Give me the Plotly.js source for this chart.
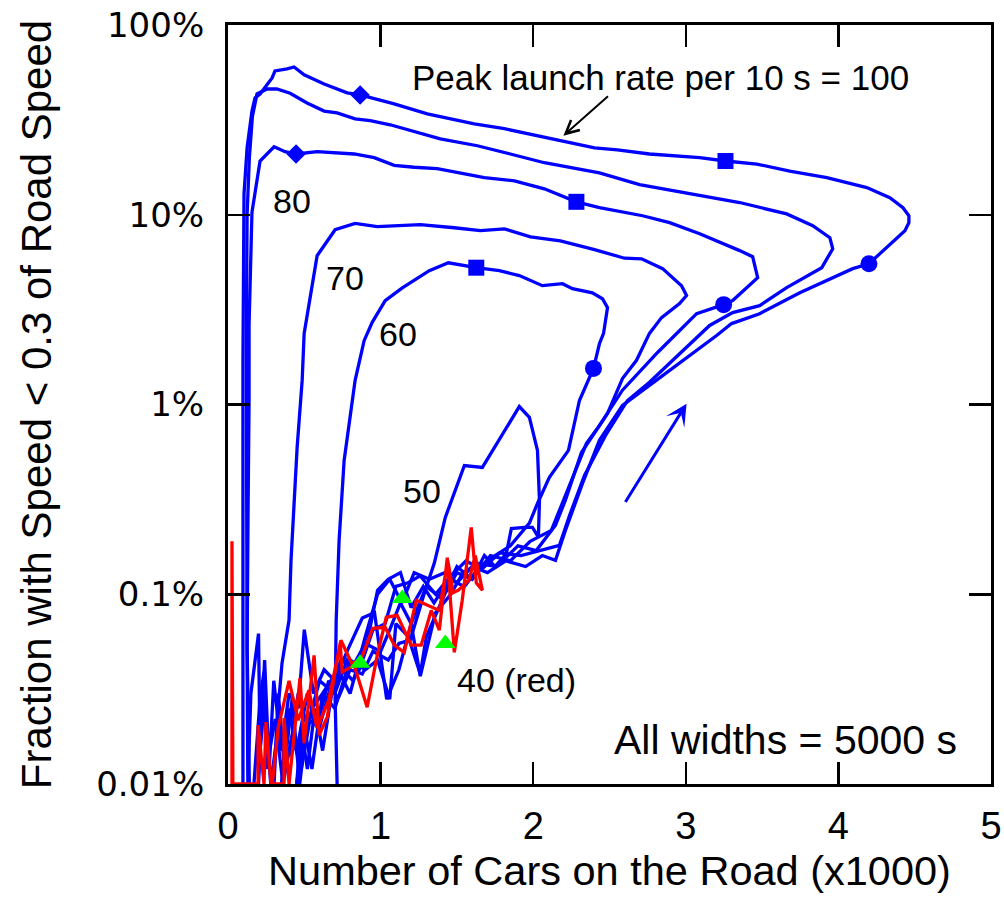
<!DOCTYPE html>
<html><head><meta charset="utf-8">
<script src="https://cdn.plot.ly/plotly-3.0.1.min.js"></script>
<style>html,body{margin:0;padding:0;background:#fff;}#chart{width:1004px;height:916px;}</style>
</head><body><div id="chart"></div>
<script>
// ---- data: [cars (x1000), fraction (%)] ----
const rate100 = [[0.17,0.01],[0.21,0.028],[0.236,0.039],[0.25,0.012],[0.31,0.022],[0.36,0.01],[0.42,0.018],[0.48,0.012],[0.55,0.025],[0.62,0.03],[0.72,0.04],[0.8,0.03],[0.9,0.06],[0.98,0.1],[1.06,0.12],[1.14,0.09],[1.22,0.13],[1.32,0.12],[1.42,0.13],[1.5,0.115],[1.6,0.14],[1.7,0.13],[1.82,0.15],[1.95,0.14],[2.06,0.16],
[2.146,0.151],[2.211,0.217],[2.323,0.384],[2.434,0.647],[2.585,0.988],[2.848,1.42],[3.091,1.97],[3.202,2.31],[3.30,2.67],[3.484,3.01],[3.747,3.88],[3.924,4.49],[4.094,5.2],[4.2,5.52],[4.272,6.23],[4.37,7.29],[4.436,8.24],[4.462,9.08],[4.462,9.88],[4.423,10.9],[4.337,12.3],[4.186,13.9],[3.924,15.7],[3.681,17.0],[3.465,18.5],[3.26,19.2],[3.091,20.0],[2.762,20.9],[2.552,22.0],[2.402,22.5],[2.178,24.5],[1.962,26.7],[1.811,28.4],[1.614,30.1],[1.306,34.0],[1.089,38.4],[0.866,42.8],[0.781,43.9],[0.63,48.9],[0.499,54.6],[0.433,60.1],[0.387,58.7],[0.308,57.3],[0.289,52.6],[0.21,43.3],[0.177,41.3],[0.157,35.2],[0.125,22.5],[0.105,12.9],[0.098,1.71],[0.098,0.093],[0.098,0.01]];

const rate90 = [[0.13,0.01],[0.15,0.03],[0.2,0.062],[0.21,0.015],[0.24,0.028],[0.28,0.01],[0.33,0.02],[0.4,0.014],[0.46,0.03],[0.52,0.02],[0.6,0.035],[0.7,0.03],[0.78,0.045],[0.86,0.04],[0.95,0.065],[1.03,0.07],[1.1,0.11],[1.18,0.115],[1.26,0.125],[1.36,0.1],[1.46,0.125],[1.56,0.15],[1.66,0.135],[1.78,0.165],[1.92,0.16],[2.05,0.17],
[2.172,0.181],[2.238,0.26],[2.336,0.423],[2.474,0.687],[2.618,1.05],[2.762,1.31],[2.979,1.92],[3.156,2.61],[3.307,3.05],[3.484,3.32],[3.661,4.13],[3.891,5.26],[3.963,6.62],[3.944,7.57],[3.832,8.75],[3.661,10.1],[3.353,11.6],[3.091,12.6],[2.697,14.4],[2.434,16.6],[2.073,18.8],[1.85,20.9],[1.634,23.1],[1.391,25.1],[1.22,27.4],[1.063,29.8],[0.932,31.3],[0.833,32.0],[0.715,34.4],[0.63,35.2],[0.518,38.8],[0.407,43.7],[0.32,46.0],[0.256,46.0],[0.19,43.3],[0.16,33],[0.14,20],[0.125,10],[0.12,2],[0.12,0.3],[0.125,0.05],[0.13,0.01]];

const rate80 = [[0.2,0.01],[0.24,0.045],[0.27,0.012],[0.3,0.035],[0.35,0.015],[0.4,0.03],[0.46,0.025],[0.5,0.065],[0.56,0.03],[0.63,0.04],[0.7,0.035],[0.78,0.05],[0.88,0.075],[0.96,0.08],[1.04,0.028],[1.12,0.04],[1.2,0.07],[1.3,0.11],[1.4,0.095],[1.5,0.14],[1.6,0.12],[1.72,0.16],[1.85,0.15],[1.98,0.19],
[2.119,0.217],[2.172,0.277],[2.251,0.398],[2.349,0.624],[2.434,0.774],[2.585,1.19],[2.815,1.88],[3.071,3.01],[3.248,3.36],[3.307,3.53],[3.471,4.66],[3.438,6.01],[3.353,6.47],[3.091,7.94],[2.894,9.08],[2.717,9.88],[2.434,10.9],[2.283,11.7],[2.073,13.7],[1.877,15.1],[1.68,15.7],[1.522,16.6],[1.371,17.5],[1.22,17.8],[1.089,18.2],[0.958,20.0],[0.827,20.9],[0.584,21.5],[0.446,20.9],[0.374,21.5],[0.302,22.8],[0.21,19.2],[0.157,10.3],[0.138,2.61],[0.138,1.05],[0.131,0.245],[0.125,0.053],[0.14,0.01]];

const rate70 = [[0.3,0.01],[0.33,0.03],[0.37,0.012],[0.42,0.028],[0.47,0.01],[0.52,0.022],[0.6,0.02],[0.66,0.03],[0.74,0.045],[0.82,0.042],[0.9,0.055],[1.0,0.05],[1.06,0.065],[1.13,0.09],[1.2,0.07],[1.26,0.037],[1.36,0.08],[1.46,0.1],[1.54,0.13],[1.64,0.145],[1.76,0.14],[1.9,0.18],[2.02,0.17],
[2.146,0.231],[2.211,0.313],[2.316,0.558],[2.487,0.897],[2.585,1.37],[2.677,1.71],[2.762,2.37],[2.841,2.87],[2.959,3.4],[3.005,3.75],[2.972,4.23],[2.848,5.2],[2.71,5.86],[2.598,5.9],[2.402,6.55],[2.178,7.29],[1.982,7.65],[1.811,8.43],[1.654,8.24],[1.483,8.54],[1.26,8.86],[0.978,8.65],[0.833,9.0],[0.702,8.34],[0.584,6.08],[0.499,2.37],[0.486,1.34],[0.453,0.594],[0.413,0.151],[0.4,0.0731],[0.354,0.0433],[0.322,0.0217],[0.302,0.01]];

const rate60 = [[0.45,0.01],[0.48,0.02],[0.52,0.012],[0.57,0.025],[0.62,0.015],[0.68,0.03],[0.75,0.04],[0.82,0.035],[0.9,0.05],[0.98,0.105],[1.05,0.12],[1.13,0.13],[1.2,0.085],[1.28,0.11],[1.35,0.09],[1.45,0.12],[1.55,0.11],[1.65,0.14],[1.75,0.16],[1.85,0.18],
[1.975,0.237],[2.028,0.301],[2.106,0.413],[2.231,0.573],[2.303,1.05],[2.395,1.55],[2.434,2.09],[2.461,2.37],[2.487,3.24],[2.454,3.61],[2.388,3.88],[2.257,4.08],[2.192,4.33],[2.06,4.23],[1.909,4.78],[1.778,5.07],[1.627,5.26],[1.444,5.58],[1.319,5.07],[1.14,4.1],[1.03,3.53],[0.945,2.71],[0.892,2.17],[0.833,1.34],[0.761,0.507],[0.728,0.192],[0.709,0.073],[0.702,0.0277],[0.715,0.01]];

const rate50 = [[0.35,0.01],[0.4,0.025],[0.45,0.015],[0.52,0.03],[0.58,0.02],[0.66,0.035],[0.72,0.028],[0.8,0.04],[0.88,0.038],[0.95,0.05],[1.05,0.045],[1.12,0.055],
[1.194,0.0573],[1.286,0.101],[1.352,0.146],[1.424,0.254],[1.549,0.477],[1.667,0.466],[1.909,0.975],[1.975,0.855],[2.028,0.573],[2.041,0.313],[2.034,0.2],[1.995,0.225],[1.942,0.225],[1.857,0.222],[1.824,0.164],
[1.75,0.14],[1.68,0.16],[1.6,0.12],[1.5,0.13],[1.42,0.1],[1.3,0.06],[1.26,0.038],[1.18,0.06],[1.1,0.07],[1.06,0.028],[0.98,0.045],[0.9,0.04],[0.8,0.045],[0.7,0.025],[0.62,0.03],[0.55,0.012],[0.5,0.02],[0.45,0.01]];

const rate40 = [[0.026,0.01],[0.026,0.19],[0.032,0.01],[0.197,0.01],[0.197,0.0204],[0.236,0.01],[0.249,0.0212],[0.282,0.01],[0.367,0.01],[0.367,0.0223],[0.40,0.01],[0.472,0.0362],[0.499,0.0164],[0.564,0.0476],[0.597,0.0181],[0.65,0.0225],[0.735,0.0552],[0.748,0.0389],[0.827,0.0423],[0.912,0.0254],[0.978,0.0476],[1.037,0.0756],[1.109,0.0774],[1.201,0.0539],[1.266,0.0539],[1.332,0.0822],[1.385,0.0647],[1.437,0.156],[1.483,0.0494],[1.535,0.093],[1.594,0.225],[1.627,0.115],[1.667,0.105],[1.62,0.16],[1.58,0.119],[1.51,0.105],[1.476,0.102],[1.44,0.151],[1.385,0.0822],[1.306,0.0874],[1.234,0.093],[1.155,0.0494],[1.09,0.0539],[1.03,0.067],[0.948,0.0662],[0.87,0.0449],[0.81,0.0433],[0.74,0.0572],[0.66,0.0277],[0.584,0.0197],[0.53,0.0312],[0.46,0.0217],[0.4,0.035],[0.33,0.02],[0.29,0.01]];

const diamondMarks = [[0.866,42.8],[0.446,20.9]];
const squareMarks  = [[3.26,19.2],[2.283,11.7],[1.627,5.26]];
const circleMarks  = [[4.2,5.52],[3.248,3.36],[2.395,1.55]];
const greenMarks   = [[0.866,0.0433],[1.142,0.095],[1.424,0.055]];

const xTickVals = [0,1,2,3,4,5];
const yTickVals = [0.01,0.1,1,10,100];
const yTickText = ['0.01%','0.1%','1%','10%','100%'];

const xTitle = 'Number of Cars on the Road (x1000)';
const yTitle = 'Fraction with Speed < 0.3 of Road Speed';

// ---- traces ----
const BLUE = '#0000ff', RED = '#ff0000';
function lineTrace(pts, color){
  return {x: pts.map(p=>p[0]), y: pts.map(p=>p[1]), type:'scatter', mode:'lines',
          line:{color:color, width:3.3}, hoverinfo:'skip'};
}
function markTrace(pts, symbol, size, color){
  return {x: pts.map(p=>p[0]), y: pts.map(p=>p[1]), type:'scatter', mode:'markers',
          marker:{symbol:symbol, size:size, color:color, line:{width:0}}, hoverinfo:'skip', cliponaxis:false};
}
const traces = [
  lineTrace(rate100, BLUE), lineTrace(rate90, BLUE), lineTrace(rate80, BLUE),
  lineTrace(rate70, BLUE), lineTrace(rate60, BLUE), lineTrace(rate50, BLUE),
  lineTrace(rate40, RED),
  markTrace(diamondMarks, 'diamond', 15, BLUE),
  markTrace(squareMarks, 'square', 16, BLUE),
  markTrace(circleMarks, 'circle', 17, BLUE),
  markTrace(greenMarks, 'triangle-up', 18, '#00ff00')
];

const L = v => Math.log10(v);
const SANS = 'Liberation Sans, Arial, sans-serif';

const annotations = [
  {x:1.19, y:L(53.2), text:'Peak launch rate per 10 s = 100', xanchor:'left', yanchor:'middle', showarrow:false, font:{family:SANS, size:35, color:'#000'}},
  {x:2.198, y:L(26.1), ax:2.5, ay:L(42.8), axref:'x', ayref:'y', text:'', showarrow:true, arrowhead:5, arrowsize:1.3, arrowwidth:2, arrowcolor:'#000'},
  {x:3.005, y:L(1.01), ax:2.598, ay:L(0.301), axref:'x', ayref:'y', text:'', showarrow:true, arrowhead:3, arrowsize:1.2, arrowwidth:3, arrowcolor:BLUE},
  {x:0.42, y:1.074, text:'80', showarrow:false, font:{family:SANS, size:34, color:'#000'}},
  {x:0.768, y:0.668, text:'70', showarrow:false, font:{family:SANS, size:34, color:'#000'}},
  {x:1.115, y:0.374, text:'60', showarrow:false, font:{family:SANS, size:34, color:'#000'}},
  {x:1.273, y:-0.458, text:'50', showarrow:false, font:{family:SANS, size:34, color:'#000'}},
  {x:1.89, y:-1.45, text:'40 (red)', showarrow:false, font:{family:SANS, size:34, color:'#000'}},
  {x:3.655, y:-1.768, text:'All widths = 5000 s', showarrow:false, font:{family:SANS, size:41, color:'#000'}}
];

const axisCommon = {
  ticks:'inside', ticklen:22, tickwidth:2.5, tickcolor:'#000',
  showline:true, linewidth:3, linecolor:'#000', mirror:'ticks',
  showgrid:false, zeroline:false
};

const layout = {
  width:1004, height:916,
  margin:{l:228, r:13, t:25, b:132, pad:0},
  paper_bgcolor:'#fff', plot_bgcolor:'#fff',
  showlegend:false,
  font:{family:SANS, color:'#000'},
  xaxis: Object.assign({}, axisCommon, {
    range:[0,5], tickvals:xTickVals, ticktext:xTickVals.map(String),
    tickfont:{family:SANS, size:38, color:'#000'}, ticklabelstandoff:6,
    title:{text:xTitle, font:{family:SANS, size:41.5, color:'#000'}, standoff:6}
  }),
  yaxis: Object.assign({}, axisCommon, {
    type:'log', range:[-2,2], tickvals:yTickVals, ticktext:yTickText,
    tickfont:{family:'DejaVu Sans, sans-serif', size:34, color:'#000'}, ticklabelstandoff:14,
    title:{text:yTitle, font:{family:SANS, size:42, color:'#000'}, standoff:32}
  }),
  annotations: annotations
};

Plotly.newPlot('chart', traces, layout, {staticPlot:true, displayModeBar:false});
</script>
</body></html>
